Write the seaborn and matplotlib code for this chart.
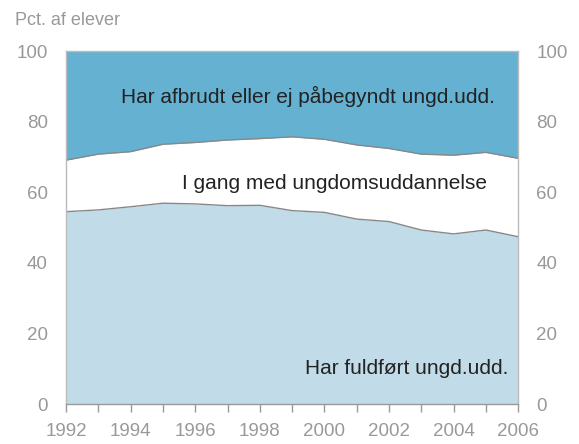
import pandas as pd
import numpy as np
import matplotlib
matplotlib.use("Agg")
import matplotlib.pyplot as plt
import seaborn as sns

# data (pct. of pupils)
years = list(range(1992, 2007))
fuldfort = [54.5, 55.0, 55.9, 56.9, 56.7, 56.2, 56.3, 54.8, 54.3, 52.4, 51.7, 49.3, 48.2, 49.3, 47.4]
i_gang_top = [69.1, 70.8, 71.5, 73.6, 74.1, 74.8, 75.2, 75.7, 75.0, 73.4, 72.4, 70.8, 70.5, 71.3, 69.6]
labels = ["Har fuldført ungd.udd.", "I gang med ungdomsuddannelse", "Har afbrudt eller ej påbegyndt ungd.udd."]

df = pd.DataFrame({"year": years, "fuldfort": fuldfort, "top": i_gang_top})

sns.set_style("white")
plt.rcParams['font.family'] = ['Arial', 'Liberation Sans', 'DejaVu Sans']

grey = "#999999"
fig = plt.figure(figsize=(5.79, 4.44), dpi=100)
ax = fig.add_axes([0.114, 0.09, 0.781, 0.795])

ax.fill_between(df["year"], 0, df["fuldfort"], color="#c2dbe8", lw=0)
ax.fill_between(df["year"], df["fuldfort"], df["top"], color="white", lw=0)
ax.fill_between(df["year"], df["top"], 100, color="#64b1d2", lw=0)
sns.lineplot(data=df, x="year", y="fuldfort", ax=ax, color="#888888", lw=1)
sns.lineplot(data=df, x="year", y="top", ax=ax, color="#888888", lw=1)

ax.set_xlim(1992, 2006)
ax.set_ylim(0, 100)
ax.set_xlabel("")
ax.set_ylabel("")
ax.set_xticks(range(1992, 2007, 2))
ax.set_xticks(range(1992, 2007), minor=True)
ax.set_yticks(range(0, 101, 20))
ax.tick_params(axis="x", which="both", direction="out", length=6, color=grey, width=1,
               labelsize=13.5, labelcolor=grey, pad=8, bottom=True)
ax.tick_params(axis="y", length=0, labelsize=13.5, labelcolor=grey, pad=13,
               left=False, right=False, labelleft=True, labelright=True)
for s in ax.spines.values():
    s.set_color("#bbbbbb")
    s.set_linewidth(1)
ax.spines["bottom"].set_color(grey)

ax.text(1999.5, 87, labels[2], ha="center", va="center", fontsize=15, color="#222222")
ax.text(2000.3, 62.6, labels[1], ha="center", va="center", fontsize=15, color="#222222")
ax.text(2005.7, 10.2, labels[0], ha="right", va="center", fontsize=15, color="#222222")

fig.text(0.026, 0.953, "Pct. af elever", fontsize=13, color=grey, ha="left", va="center")

plt.savefig("out.png", dpi=100)
